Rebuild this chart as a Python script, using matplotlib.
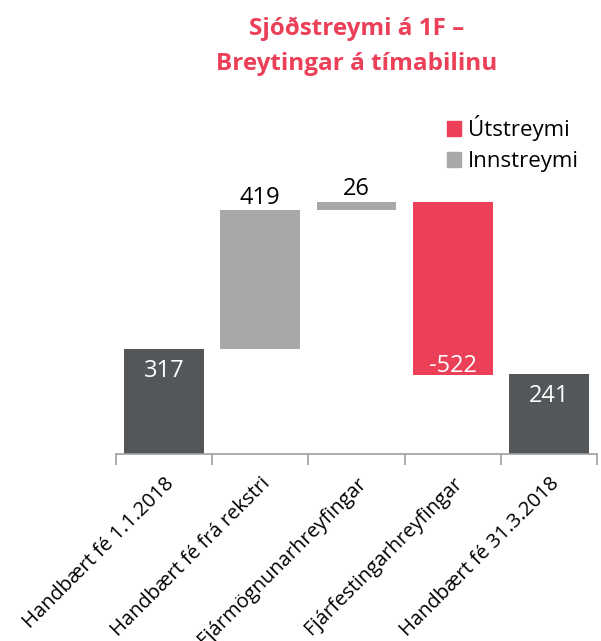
import matplotlib
matplotlib.use("Agg")
import matplotlib.pyplot as plt
from matplotlib.patches import Patch

categories = ["Handbært fé 1.1.2018", "Handbært fé frá rekstri",
              "Fjármögnunarhreyfingar", "Fjárfestingarhreyfingar",
              "Handbært fé 31.3.2018"]
changes = [317, 419, 26, -522, 241]
kinds = ["total", "in", "in", "out", "total"]
labels = ["317", "419", "26", "-522", "241"]

colors = {"total": "#54575A", "in": "#A8A8A8", "out": "#EB4058"}
red = "#EB4058"

plt.rcParams['font.family'] = ['Open Sans', 'DejaVu Sans']

fig = plt.figure(figsize=(6.01, 6.41), dpi=100)
ax_bottom_px, ax_top_px = 454, 180
ax = fig.add_axes([116/601, 1 - ax_bottom_px/641, (597-116)/601, (ax_bottom_px-ax_top_px)/641])

px_per_unit = 105/317
ymax = (ax_bottom_px - ax_top_px) / px_per_unit

running = 0
for i, (v, k, lab) in enumerate(zip(changes, kinds, labels)):
    if k == "total":
        bottom, height = 0, v
        running = v
    elif k == "in":
        bottom, height = running, v
        running += v
    else:
        bottom, height = running + v, -v
        running += v
    ax.bar(i, height, bottom=bottom, width=0.83, color=colors[k], edgecolor='none')
    if k == "total":
        ax.annotate(lab, (i, bottom + height), xytext=(0, -16), textcoords='offset points',
                    ha='center', va='center', color='white', fontsize=17)
    elif k == "in":
        ax.annotate(lab, (i, bottom + height), xytext=(0, 9), textcoords='offset points',
                    ha='center', va='center', color='black', fontsize=17)
    else:
        ax.annotate(lab, (i, bottom), xytext=(0, 6), textcoords='offset points',
                    ha='center', va='center', color='white', fontsize=17)

ax.set_xlim(-0.5, len(categories) - 0.5)
ax.set_ylim(0, ymax)
for s in ['top', 'right', 'left']:
    ax.spines[s].set_visible(False)
ax.spines['bottom'].set_color('#A0A0A0')
ax.spines['bottom'].set_linewidth(1.2)
ax.set_yticks([])
ax.set_xticks(range(len(categories)))
ax.set_xticklabels(categories, rotation=45, ha='right', rotation_mode='anchor', fontsize=14.5)
ax.tick_params(axis='x', which='major', length=0, pad=14)
ax.set_xticks([i - 0.5 for i in range(len(categories) + 1)], minor=True)
ax.tick_params(axis='x', which='minor', length=8, color='#A0A0A0', width=1.2)

fig.text(357/601, 1 - 29/641, "Sjóðstreymi á 1F –", ha='center', va='center',
         color=red, fontsize=17.5, fontweight='bold')
fig.text(357/601, 1 - 64/641, "Breytingar á tímabilinu", ha='center', va='center',
         color=red, fontsize=17.5, fontweight='bold')

handles = [Patch(color=colors["out"], label="Útstreymi"),
           Patch(color=colors["in"], label="Innstreymi")]
fig.legend(handles=handles, loc='upper left', bbox_to_anchor=(438/601, 1 - 106/641),
           frameon=False, fontsize=16, handlelength=0.65, handleheight=0.65,
           handletextpad=0.3, labelspacing=0.45, borderaxespad=0)

fig.savefig("out.png", dpi=100)
